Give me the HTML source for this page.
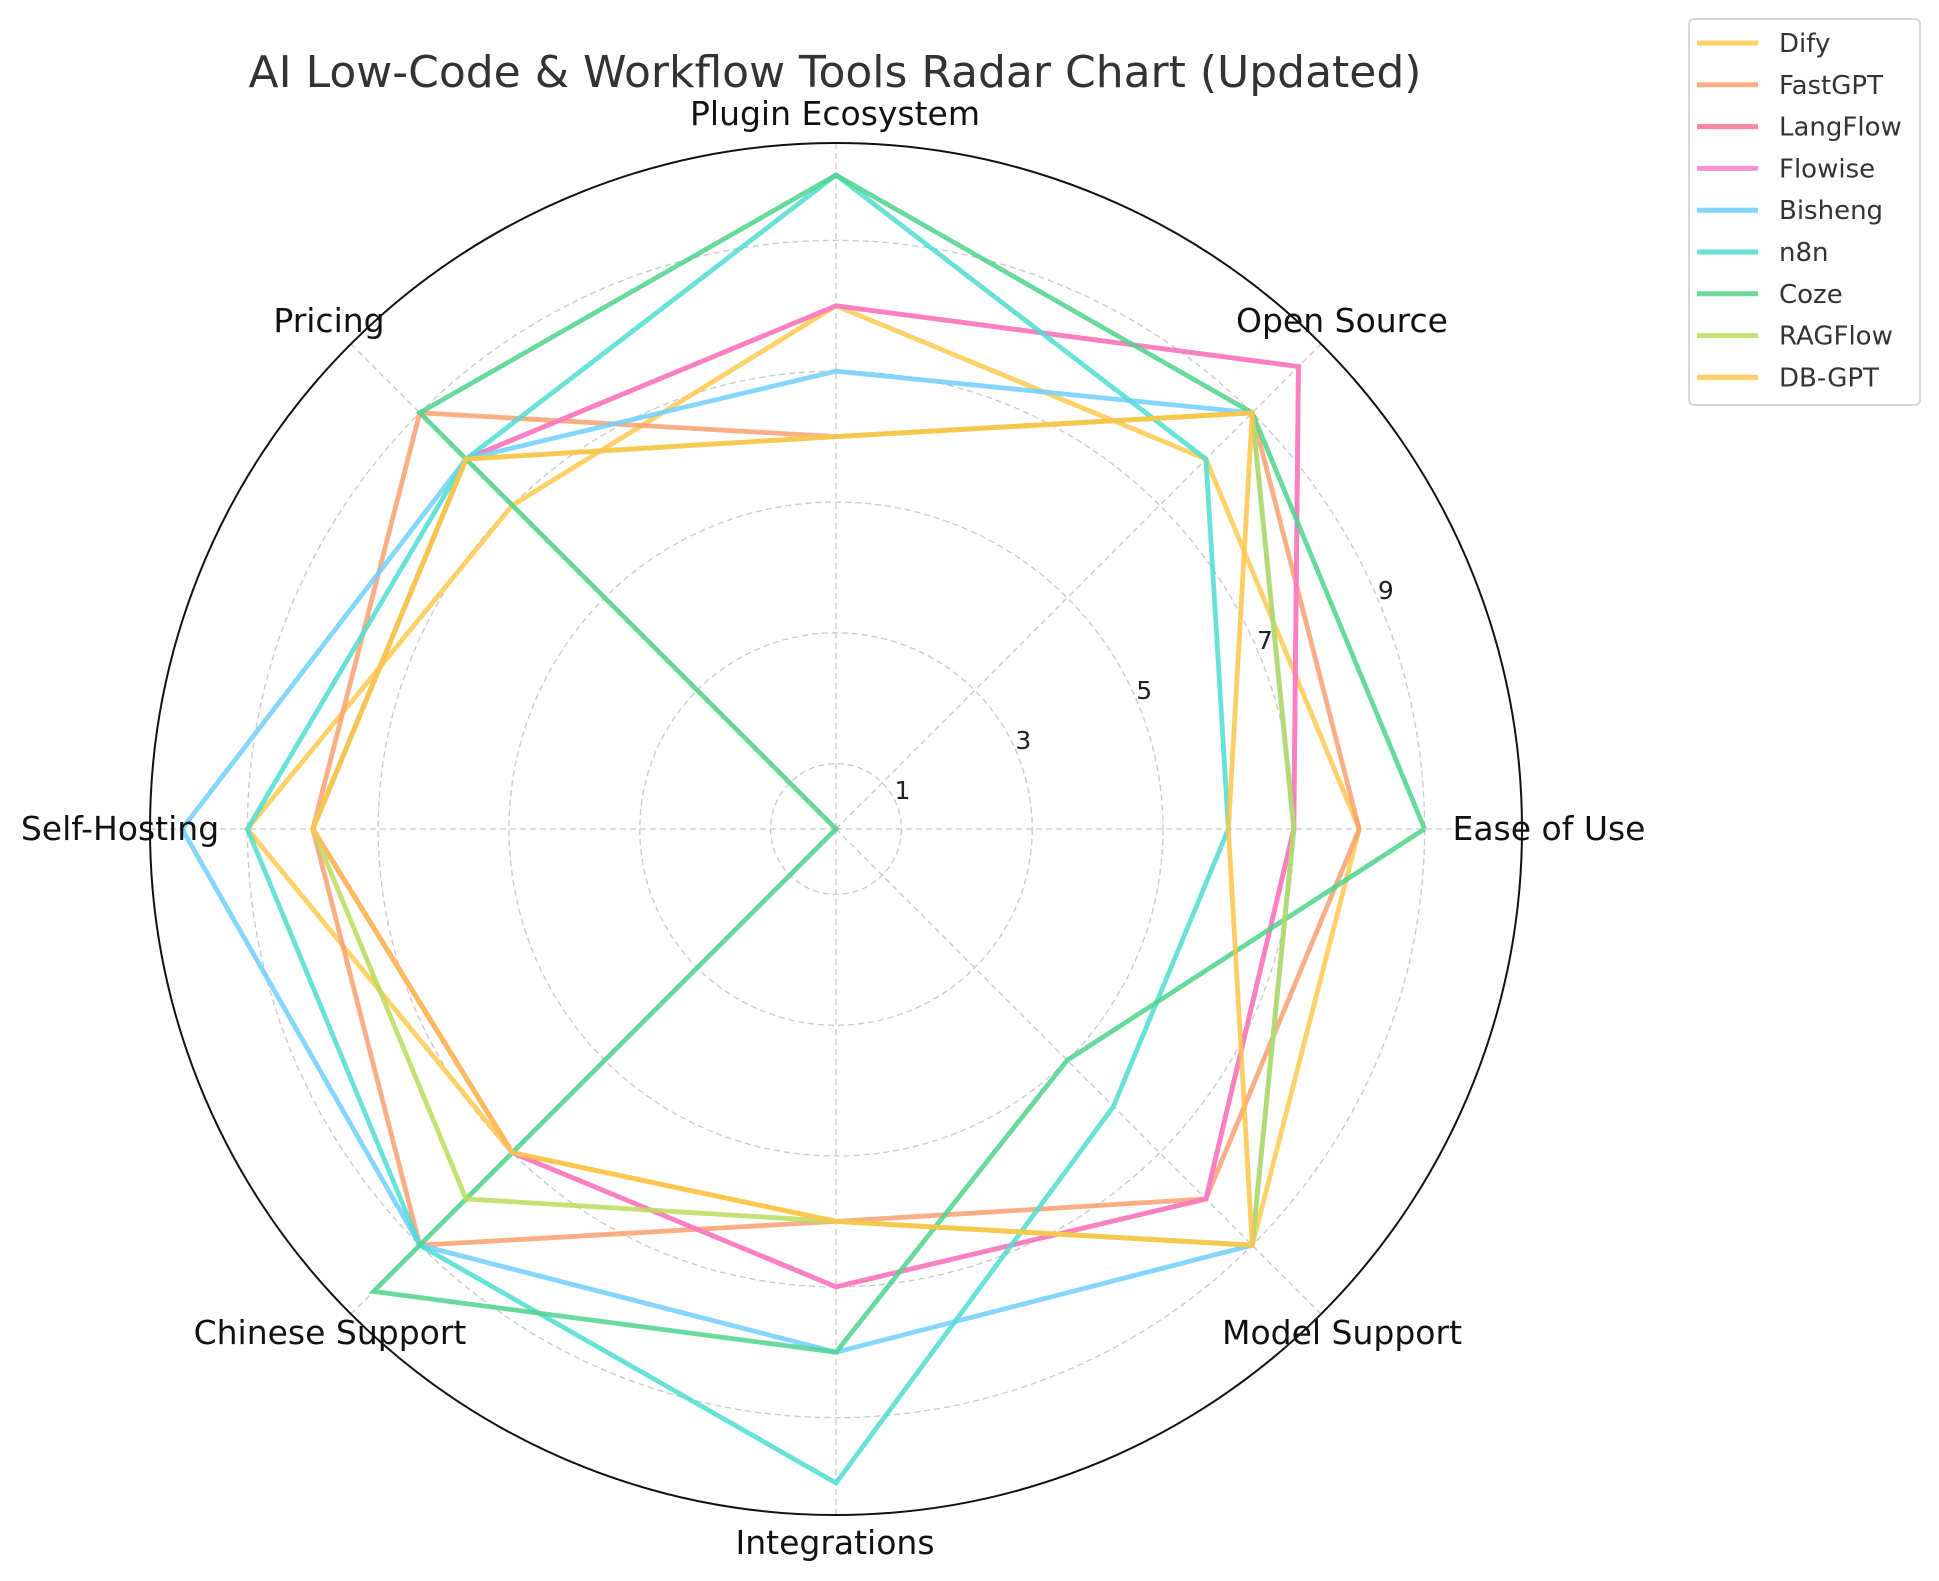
<!DOCTYPE html>
<html><head><meta charset="utf-8">
<style>
html,body{margin:0;padding:0;background:#fff;}
svg{display:block;font-family:"DejaVu Sans","Liberation Sans",sans-serif;}
</style></head>
<body>
<svg id="chart" width="1939" height="1581" viewBox="0 0 1939 1581" xmlns="http://www.w3.org/2000/svg">
<text x="835" y="87" text-anchor="middle" font-size="44" fill="#333">AI Low-Code &amp; Workflow Tools Radar Chart (Updated)</text>
<g id="grid"></g>
<g id="series"></g>
<g id="labels"></g>
<g id="legend"></g>
</svg>
<script>
const categories = ["Ease of Use","Open Source","Plugin Ecosystem","Pricing","Self-Hosting","Chinese Support","Integrations","Model Support"];
const seriesNames = ["Dify","FastGPT","LangFlow","Flowise","Bisheng","n8n","Coze","RAGFlow","DB-GPT"];
const dify    = [8,8,8,7,9,7,6,9];
const fastgpt = [8,9,6,9,8,9,6,8];
const langflow= [7,10,8,8,8,7,7,8];
const flowise = [7,10,8,8,8,7,7,8];
const bisheng = [7,9,7,8,10,9,8,9];
const n8n     = [6,8,10,8,9,9,10,6];
const coze    = [9,9,10,9,0,10,8,5];
const ragflow = [7,9,6,8,8,8,6,9];
const dbgpt   = [6,9,6,8,8,7,6,9];
const seriesValues = [dify,fastgpt,langflow,flowise,bisheng,n8n,coze,ragflow,dbgpt];
const tickValues = [1,3,5,7,9];
const tickLabels = ["1","3","5","7","9"];

const colors = ["#FFC94D","#F9A070","#FF6F8E","#F97FC8","#6ECFFF","#4EDDD2","#4FD48C","#BADC5C","#FFC44A"];
const NS="http://www.w3.org/2000/svg";
const cx=836, cy=829, unit=65.4, rmax=686;
const rScale=v=>v*unit;
const ang=i=>i*Math.PI*2/categories.length;
const pt=(i,v)=>[cx+rScale(v)*Math.cos(ang(i)), cy-rScale(v)*Math.sin(ang(i))];
function mk(tag,attrs,parent){const e=document.createElementNS(NS,tag);for(const k in attrs)e.setAttribute(k,attrs[k]);parent.appendChild(e);return e;}

const grid=document.getElementById('grid');
tickValues.forEach((v,k)=>{
  const c=mk('circle',{cx:cx,cy:cy,r:rScale(v),fill:'none',stroke:'#c8c8c8','stroke-width':1.3,'stroke-dasharray':'6,4'},grid);
  
  
  const a=22.5*Math.PI/180, rr=rScale(v+0.15);
  const t=mk('text',{x:cx+rr*Math.cos(a)-3,y:cy-rr*Math.sin(a)-1,'text-anchor':'middle','font-size':25,fill:'#222'},grid);
  t.textContent=tickLabels[k];
  
  
});
categories.forEach((c,i)=>{
  const p=pt(i,rmax/unit);
  const l=mk('line',{x1:cx,y1:cy,x2:p[0],y2:p[1],stroke:'#c8c8c8','stroke-width':1.3,'stroke-dasharray':'6,4'},grid);
  
  
});
const outer=mk('circle',{cx:cx,cy:cy,r:rmax,fill:'none',stroke:'#111','stroke-width':2},grid);



const sg=document.getElementById('series');
seriesValues.forEach((vals,s)=>{
  const pts=vals.map((v,i)=>pt(i,v));
  pts.push(pts[0]);
  const pl=mk('polyline',{points:pts.map(p=>p.join(',')).join(' '),fill:'none',stroke:colors[s],'stroke-width':4.8,'stroke-opacity':0.85,'stroke-linejoin':'miter'},sg);
  
  
});

const lg=document.getElementById('labels');
const labelPos=[[1549,840,'middle'],[1342,332,'middle'],[835,125,'middle'],[329,332,'middle'],[120,840,'middle'],[330,1344,'middle'],[835,1554,'middle'],[1342,1344,'middle']];
categories.forEach((c,i)=>{
  const t=mk('text',{x:labelPos[i][0],y:labelPos[i][1],'text-anchor':labelPos[i][2],'font-size':33,fill:'#111'},lg);
  t.textContent=c;
  
  
});

const leg=document.getElementById('legend');
const box=mk('rect',{x:1689,y:19,width:231,height:386,rx:5,fill:'#fff',stroke:'#d6d6d6','stroke-width':2},leg);


seriesNames.forEach((n,s)=>{
  const y=43+s*41.8;
  const g=mk('g',{},leg);
  
  
  mk('line',{x1:1697,y1:y,x2:1758,y2:y,stroke:colors[s],'stroke-width':5,'stroke-opacity':0.85},g);
  const t=mk('text',{x:1779,y:y+9,'font-size':26,fill:'#333'},g);
  t.textContent=n;
});
</script>
</body></html>
